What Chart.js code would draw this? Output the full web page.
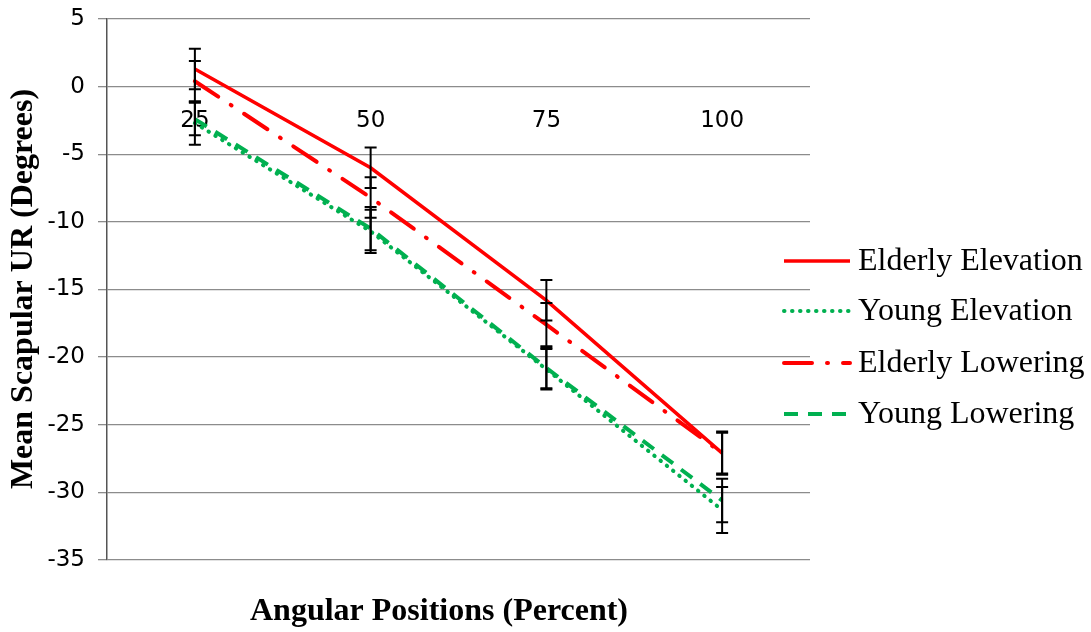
<!DOCTYPE html>
<html>
<head>
<meta charset="utf-8">
<script src="https://cdn.jsdelivr.net/npm/chart.js@4.4.1/dist/chart.umd.min.js"></script>
<style>
  html,body{margin:0;padding:0;background:#fff}
  #wrap{width:1091px;height:632px}
</style>
</head>
<body>
<div id="wrap"><canvas id="chartUR" width="1091" height="632"></canvas></div>
<script>
// categories (percent of angular positions)
const positions = ["25", "50", "75", "100"];

// mean scapular UR (degrees)
const elderlyElevation = [1.3, -6.0, -15.8, -27.1];
const youngElevation   = [-2.7, -10.7, -20.9, -31.3];
const elderlyLowering  = [0.4, -8.2, -17.6, -27.1];
const youngLowering    = [-2.4, -10.5, -20.8, -30.6];

// error bar half-lengths
const errElderlyElevation = [1.5, 1.5, 1.5, 1.6];
const errYoungElevation   = [1.6, 1.6, 1.5, 1.7];
const errElderlyLowering  = [1.5, 1.5, 1.6, 1.5];
const errYoungLowering    = [1.2, 1.6, 1.5, 1.6];

const yTicks = [5, 0, -5, -10, -15, -20, -25, -30, -35];

const RED = "#FF0000", GREEN = "#00B050";
const serif = "'Liberation Serif', 'Times New Roman', serif";
const sans = "'DejaVu Sans', Verdana, sans-serif";

const series = [
  { label:"Elderly Elevation", data:elderlyElevation, err:errElderlyElevation, color:RED,   dash:[],              cap:"butt",  width:3.5 },
  { label:"Young Elevation",   data:youngElevation,   err:errYoungElevation,   color:GREEN, dash:[0.5, 7.5],      cap:"round", width:4 },
  { label:"Elderly Lowering",  data:elderlyLowering,  err:errElderlyLowering,  color:RED,   dash:[28, 15, 1, 15], cap:"round", width:4 },
  { label:"Young Lowering",    data:youngLowering,    err:errYoungLowering,    color:GREEN, dash:[14, 10],        cap:"butt",  width:4 }
];

// error bars drawn from the y scale
const errorBars = {
  id:"errorBars",
  afterDatasetsDraw(chart){
    const ctx = chart.ctx, ys = chart.scales.y;
    ctx.save();
    ctx.strokeStyle = "#000";
    ctx.lineWidth = 2;
    chart.data.datasets.forEach((ds, i) => {
      const meta = chart.getDatasetMeta(i);
      meta.data.forEach((pt, j) => {
        const v = ds.data[j], e = ds.errors[j];
        const x = pt.x;
        const y1 = ys.getPixelForValue(v + e), y2 = ys.getPixelForValue(v - e);
        ctx.beginPath();
        ctx.moveTo(x, y1); ctx.lineTo(x, y2);
        ctx.moveTo(x - 6, y1); ctx.lineTo(x + 6, y1);
        ctx.moveTo(x - 6, y2); ctx.lineTo(x + 6, y2);
        ctx.stroke();
      });
    });
    ctx.restore();
  }
};

// legend on the right and axis titles
const sideLegend = {
  id:"sideLegend",
  afterDraw(chart){
    const ctx = chart.ctx;
    ctx.save();
    const rows = [261, 311, 363, 414];
    series.forEach((s, i) => {
      const y = rows[i];
      ctx.strokeStyle = s.color;
      ctx.lineWidth = s.width;
      ctx.lineCap = s.cap;
      ctx.setLineDash(s.dash);
      ctx.beginPath();
      ctx.moveTo(784, y); ctx.lineTo(850, y);
      ctx.stroke();
      ctx.setLineDash([]);
      ctx.fillStyle = "#000";
      ctx.font = "32px " + serif;
      ctx.textBaseline = "middle";
      ctx.textAlign = "left";
      ctx.fillText(s.label, 858, y + 1);
    });

    ctx.font = "bold 32px " + serif;
    ctx.textAlign = "center";
    ctx.textBaseline = "middle";
    ctx.fillText("Angular Positions (Percent)", 439, 612);

    ctx.translate(24, 289);
    ctx.rotate(-Math.PI / 2);
    ctx.fillText("Mean Scapular UR (Degrees)", 0, 0);
    ctx.restore();
  }
};

function buildChart(){
  const ctx = document.getElementById("chartUR");
  return new Chart(ctx, {
    type:"line",
    data:{
      labels: positions,
      datasets: series.map(s => ({
        label: s.label,
        data: s.data,
        errors: s.err,
        borderColor: s.color,
        borderWidth: s.width,
        borderDash: s.dash,
        borderCapStyle: s.cap,
        pointRadius: 0,
        tension: 0,
        fill: false
      }))
    },
    options:{
      responsive:false,
      animation:false,
      layout:{ padding:{ left:0, right:281, top:19, bottom:72 } },
      plugins:{ legend:{ display:false }, tooltip:{ enabled:false } },
      scales:{
        x:{
          type:"category",
          position:{ y:0 },
          offset:true,
          grid:{ display:false },
          border:{ display:false },
          afterFit(scale){ scale.paddingLeft = 0; scale.paddingRight = 0; },
          ticks:{ color:"#000", font:{ family:sans, size:23 }, padding:13 }
        },
        y:{
          min:-35, max:5,
          afterFit(scale){ scale.width = 107; scale.paddingTop = 0; scale.paddingBottom = 0; },
          afterBuildTicks(scale){ scale.ticks = yTicks.map(v => ({ value:v })); },
          grid:{ color:"#8c8c8c", lineWidth:1.3, tickLength:9 },
          border:{ color:"#555", width:1.5 },
          ticks:{ color:"#000", font:{ family:sans, size:23 }, padding:13 }
        }
      }
    },
    plugins:[errorBars, sideLegend]
  });
}

buildChart();
</script>
</body>
</html>
